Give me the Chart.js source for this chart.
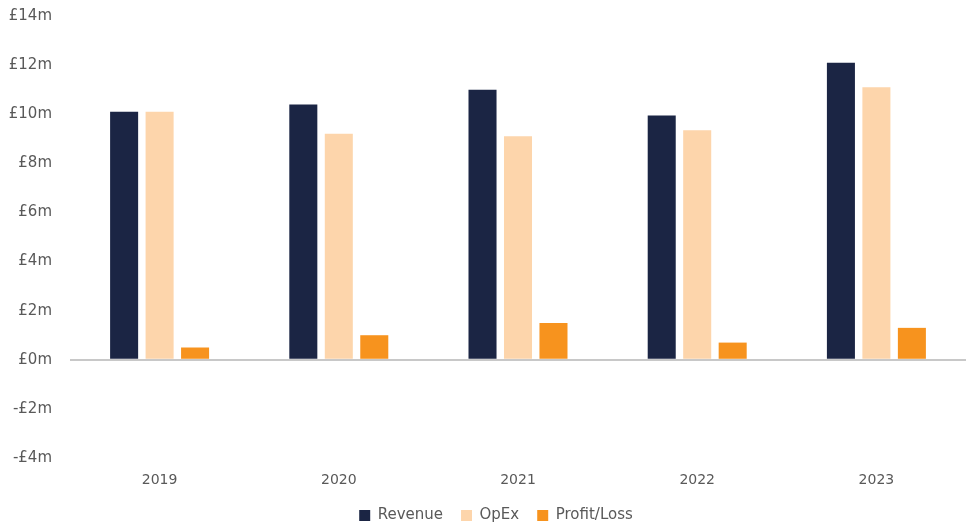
<!DOCTYPE html>
<html>
<head>
<meta charset="utf-8">
<script src="https://cdn.jsdelivr.net/npm/chart.js@4"></script>
<style>
  html, body { margin: 0; padding: 0; background: #ffffff; }
  #wrap { width: 973px; height: 522px; position: relative; }
</style>
</head>
<body>
<div id="wrap"><canvas id="c" width="973" height="522"></canvas></div>
<script>
const categories = ["2019", "2020", "2021", "2022", "2023"];
const revenue = [10.1, 10.4, 11.0, 9.95, 12.1];
const opex = [10.1, 9.2, 9.1, 9.35, 11.1];
const profitLoss = [0.5, 1.0, 1.5, 0.7, 1.3];
const yTicks = [-4, -2, 0, 2, 4, 6, 8, 10, 12, 14];

const FONT = "'DejaVu Sans', sans-serif";
const TXT = "#595959";

const legendShift = {
  id: 'legendShift',
  afterLayout(chart) {
    if (chart.legend) { chart.legend.left += 13; chart.legend.right += 13; }
  }
};

new Chart(document.getElementById('c'), {
  type: 'bar',
  data: {
    labels: categories,
    datasets: [
      { label: 'Revenue', data: revenue, backgroundColor: '#1b2544' },
      { label: 'OpEx', data: opex, backgroundColor: '#fdd5ab' },
      { label: 'Profit/Loss', data: profitLoss, backgroundColor: '#f7931e' }
    ]
  },
  plugins: [legendShift],
  options: {
    responsive: false,
    animation: false,
    devicePixelRatio: 1,
    layout: { padding: { left: 0, right: 7, top: 16, bottom: -11 } },
    datasets: { bar: { categoryPercentage: 0.594, barPercentage: 0.79 } },
    scales: {
      x: {
        grid: { display: false },
        border: { display: false },
        ticks: { color: TXT, font: { family: FONT, size: 14 }, padding: 6 },
        afterFit: (s) => { s.height = 32; }
      },
      y: {
        min: -4, max: 14,
        afterBuildTicks: (s) => { s.ticks = yTicks.map(v => ({ value: v })); },
        grid: {
          color: (ctx) => ctx.tick && ctx.tick.value === 0 ? '#c8c8c8' : 'rgba(0,0,0,0)',
          lineWidth: (ctx) => ctx.tick && ctx.tick.value === 0 ? 2 : 0,
          drawTicks: false
        },
        border: { display: false },
        ticks: {
          color: TXT, font: { family: FONT, size: 15 }, padding: 18,
          callback: (v) => (v < 0 ? '-£' + Math.abs(v) : '£' + v) + 'm'
        },
        afterFit: (s) => { s.width = 70; s.paddingTop = 0; s.paddingBottom = 0; }
      }
    },
    plugins: {
      legend: {
        position: 'bottom',
        labels: {
          color: TXT, font: { family: FONT, size: 15 },
          boxWidth: 11, boxHeight: 11, padding: 18
        }
      },
      tooltip: { enabled: false }
    }
  }
});
</script>
</body>
</html>
